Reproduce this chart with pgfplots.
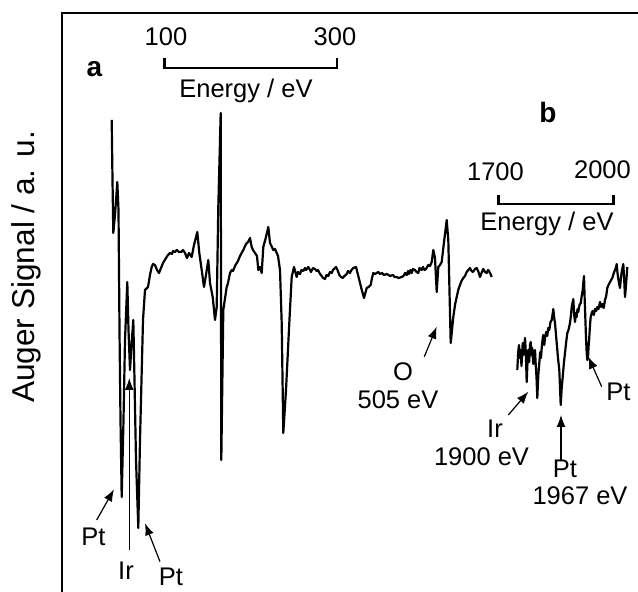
\documentclass[border=0pt]{standalone}
\usepackage{pgfplots}
\pgfplotsset{compat=1.18}
\usepackage{fontspec}
\setmainfont{Liberation Sans}
\usetikzlibrary{arrows.meta}

\pgfplotstableread{
px py
111.7 120
112.5 180
113.3 233
115 215
117.3 182
118.5 210
119.5 330
120.5 420
121.7 497
123.5 420
125 340
127.3 282
128.5 330
130 370
131.5 345
133.3 320
134.5 380
136 460
138.3 528
140 440
142 360
143 320
145 290
148 287
150 275
151.7 267
153 264
155 265
157 270
159 273
161 268
163 263
166 258
168 255
170 253
172 254
173 251
175 252
176.7 250
179 252
181.7 251.7
183 250
185 253
187 258
189 253
191.7 257
194 245
197.3 232
199.3 253
201.7 270
204 287
206 275
208.3 260
210 283
212.7 297
215 320
216.7 307
218.3 207
220.7 113
221.3 460
223.3 310
226.7 287
228 283
230 273
231.7 270
233 271
235 266
236.7 263
238 261
240 256
243.3 250
246 244
248 242
250 238
251.7 247
253 250
255 253
257 256
258.3 270
260 267
261.7 273
263.3 247
266 237
268.3 227
270 243
271.5 246
273.3 250
275 249
276.7 253
278 256
280 270
281.7 323
283.3 433
286 390
289.3 323
291.7 277
294 267
296.7 277
298 272
300 274
301.5 270
303.3 271
305 268
306 270
308.3 267
310 270
311 272
313 268
315 269
316.5 271
318 270
320 274
321.7 276
323 278
325 279
326.5 275
328.3 276
330 272
331.7 273
333 270
336 267
337.5 270
339.3 275
341 277
342.7 278
344.5 276
346.7 274
348 271
350 273
351.5 270
353.3 268
356 267
359.3 280
361.5 289
364 298
366.7 288
368.5 287
370.7 285
372 278
373.3 273
375 274
378.3 272
380 274
382 273
384 275
386.7 274
388.5 275
390 276
393 275
394.5 277
396.7 277
398.5 278
401.7 277
403.5 276
405 273
406.7 275
408 271
409 274
410.5 270
411.7 273
413 269
415 270
416.5 272
418.3 273
419.5 268
421.7 270
423 267
424.5 270
426 269
428.3 265
430 266
431.7 262
433.3 250
435 258
436.7 292
438.3 267
440 265
441.7 262
443.3 248
446.7 220
448.3 240
450.7 343
453.3 317
455 305
456.7 297
458.5 289
460 285
461.5 281
463.3 278
465 276
466.7 272
468.3 270
470 268
471.5 271
473 272
475 269
476.7 268
478.5 272
480 277
481.5 273
483.3 269
485 272
486.7 273
488 270
489 271
490.5 274
491.7 277
}\specA

\pgfplotstableread{
px py
517.3 370
518.2 352
519 345
519.8 358
520.5 350
521.5 366
522.7 343
523.5 355
524.3 348
525 338
525.8 352
526.7 382
527.5 362
528.3 350
529.2 362
530 345
530.7 342
531.5 355
532.3 348
533.2 364
534 358
535 350
535.8 366
536.5 377
537.3 398
538.3 375
539.3 363
540.2 352
541 358
541.7 348
542.5 340
543.3 335
544.3 345
545 338
546.2 332
547.3 336
548.2 328
549.3 330
550.5 322
551.7 320
552.5 315
553.3 309
554.2 318
555 323
556 335
556.7 343
558 358
559.3 370
560.7 405
561.7 388
562.7 377
564 362
565 353
566.2 342
567.3 333
568.5 330
570 323
571 315
571.7 307
572.5 303
573.3 299
574.2 315
575 322
576 313
576.7 317
577.5 309
578.3 312
579.5 305
580.7 303
581.7 296
582.7 290
583.4 282
584 276
584.7 300
585.3 317
586 338
586.7 353
587.4 360
588 357
588.7 345
589.3 337
590 325
590.7 317
591.7 313
592.7 311
593.8 315
595 309
596.2 311
597.3 307
598.5 309
600 302
601.2 307
602.5 304
603.7 308
605 300
606.2 296
607.3 288
608.5 285
610 282
611.2 280
612.7 277
613.8 273
615 270
615.8 268
616.7 264
617.5 273
618.3 279
619.2 284
620 288
620.8 279
621.7 272
622.5 268
623.3 264
624.2 280
625 297
625.8 288
626.7 276
627.3 267
}\specB

\begin{document}
\begin{tikzpicture}[lab/.style={inner sep=0pt, font=\fontsize{12.75}{15}\selectfont},
  labb/.style={inner sep=0pt, font=\fontsize{14}{16}\selectfont\bfseries}]
\useasboundingbox (-31pt,0pt) rectangle (288pt,296pt);
\begin{axis}[
  scale only axis,
  width=288pt, height=290pt,
  at={(0pt,0pt)}, anchor=south west,
  xmin=62, xmax=638, ymin=12, ymax=592,
  y dir=reverse,
  hide axis,
  clip=false,
]
\draw[line width=1pt] (axis cs:61.7,592) -- (axis cs:61.7,13.3) -- (axis cs:638,13.3);
\addplot[black, line width=1.1pt, line join=round] table[x=px, y=py] {\specA};
\addplot[black, line width=1.1pt, line join=round] table[x=px, y=py] {\specB};

% scale bars
\draw[line width=1.2pt] (axis cs:164.3,58) -- (axis cs:164.3,68) -- (axis cs:336.7,68) -- (axis cs:336.7,58);
\draw[line width=1.2pt] (axis cs:498.3,195) -- (axis cs:498.3,204) -- (axis cs:613.3,204) -- (axis cs:613.3,195);

% texts
\node[labb] at (axis cs:94.5,69) {a};
\node[lab] at (axis cs:166,37) {100};
\node[lab] at (axis cs:335,37) {300};
\node[lab] at (axis cs:246,91) {Energy / eV};
\node[labb] at (axis cs:548,113) {b};
\node[lab] at (axis cs:495.5,172) {1700};
\node[lab] at (axis cs:602.5,170) {2000};
\node[lab] at (axis cs:547,224) {Energy / eV};
\node[lab] at (axis cs:93.5,537) {Pt};
\node[lab] at (axis cs:126,571) {Ir};
\node[lab] at (axis cs:171,577) {Pt};
\node[lab] at (axis cs:403,372) {O};
\node[lab] at (axis cs:398,400) {505 eV};
\node[lab] at (axis cs:495,429) {Ir};
\node[lab] at (axis cs:481.5,457) {1900 eV};
\node[lab] at (axis cs:565,469) {Pt};
\node[lab] at (axis cs:580,496) {1967 eV};
\node[lab] at (axis cs:618.5,392) {Pt};
\node[rotate=90, inner sep=0pt, font=\fontsize{15.8}{18}\selectfont] at (axis cs:26,267) {Auger Signal / a. u.};

% arrows
\draw[line width=0.6pt, -{Latex[length=6pt,width=4.5pt]}] (axis cs:96.7,520) -- (axis cs:114,489.3);
\draw[line width=0.5pt, -{Latex[length=6pt,width=4.5pt]}] (axis cs:129.3,550) -- (axis cs:129.3,378);
\draw[line width=0.6pt, -{Latex[length=6pt,width=4.5pt]}] (axis cs:160,561.7) -- (axis cs:145,523.3);
\draw[line width=0.6pt, -{Latex[length=6pt,width=4.5pt]}] (axis cs:424.3,356.7) -- (axis cs:436.7,326.7);
\draw[line width=0.6pt, -{Latex[length=6pt,width=4.5pt]}] (axis cs:508.3,415) -- (axis cs:528.3,391.7);
\draw[line width=0.6pt, -{Latex[length=6pt,width=4.5pt]}] (axis cs:561,460) -- (axis cs:561,415);
\draw[line width=0.6pt, -{Latex[length=6pt,width=4.5pt]}] (axis cs:601.7,386.7) -- (axis cs:588.3,356.7);
\end{axis}
\end{tikzpicture}
\end{document}
